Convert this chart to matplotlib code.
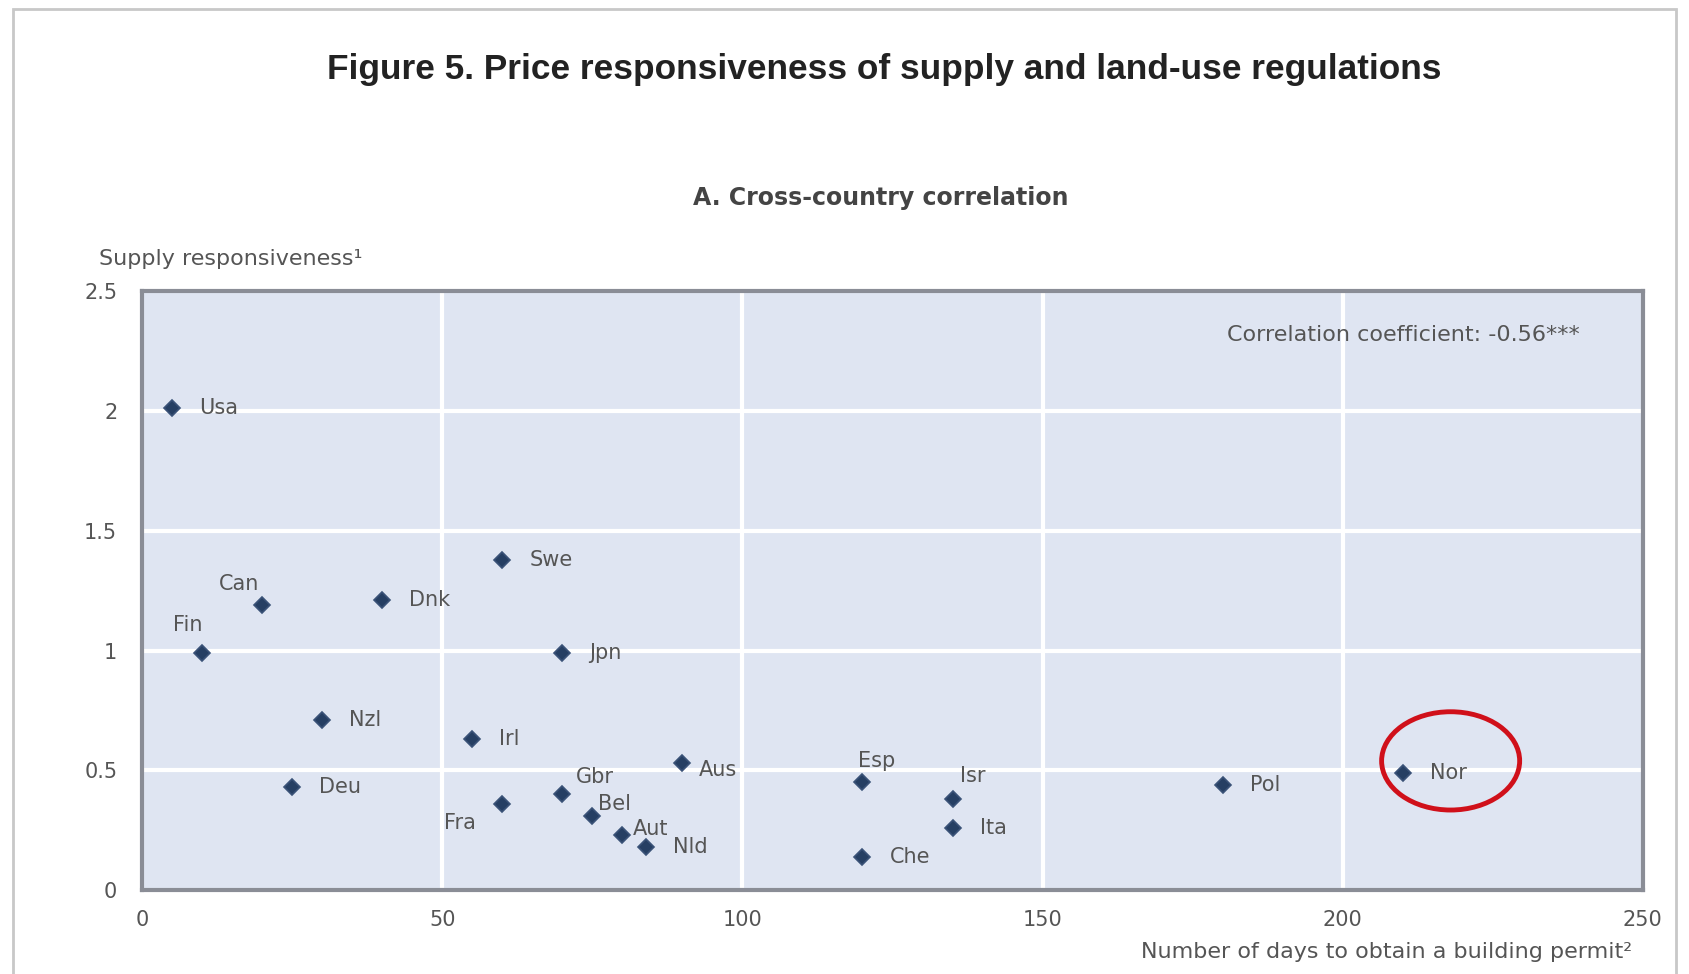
import matplotlib
matplotlib.use("Agg")
import matplotlib.pyplot as plt
from matplotlib.patches import Ellipse, Rectangle

plt.rcParams['font.family'] = ['DejaVu Sans']

# data
countries = ["Usa", "Can", "Fin", "Dnk", "Swe", "Jpn", "Nzl", "Irl", "Deu", "Fra", "Gbr",
             "Bel", "Aut", "Nld", "Aus", "Esp", "Che", "Isr", "Ita", "Pol", "Nor"]
days = [5, 20, 10, 40, 60, 70, 30, 55, 25, 60, 70,
        75, 80, 84, 90, 120, 120, 135, 135, 180, 210]
responsiveness = [2.01, 1.19, 0.99, 1.21, 1.38, 0.99, 0.71, 0.63, 0.43, 0.36, 0.40,
                  0.31, 0.23, 0.18, 0.53, 0.45, 0.14, 0.38, 0.26, 0.44, 0.49]

# label offsets in pixels (dx, dy, horizontal alignment)
label_offsets = {
    "Can": (-23, 21, "center"), "Fin": (-15, 28, "center"), "Fra": (-42, -19, "center"),
    "Gbr": (32, 17, "center"), "Bel": (6, 12, "left"), "Aut": (10, 6, "left"),
    "Aus": (16, -7, "left"), "Esp": (14, 21, "center"), "Isr": (20, 23, "center"),
}

fig = plt.figure(figsize=(16.9, 9.74), dpi=100)
ax = fig.add_axes([0.0842, 0.0859, 0.972 - 0.0842, 0.7012 - 0.0859])

ax.set_facecolor("#dfe5f2")
ax.grid(True, color="white", linewidth=3)
ax.set_axisbelow(True)
for side in ax.spines.values():
    side.set_color("#8a8d96")
    side.set_linewidth(3)

ax.plot(days, responsiveness, linestyle="none", marker="D", markersize=8,
        color="#263f63", markeredgecolor="#3a5278", markeredgewidth=1.2, zorder=3)

for name, x, y in zip(countries, days, responsiveness):
    dx, dy, ha = label_offsets.get(name, (27, 0, "left"))
    ax.annotate(name, (x, y), xytext=(dx, dy), textcoords="offset pixels",
                ha=ha, va="center", fontsize=15, color="#555555")

# highlight around Norway
ax.add_patch(Ellipse((218, 0.54), 23, 0.41, fill=False, edgecolor="#d0101a",
                     linewidth=3.5, zorder=4))

ax.set_xlim(0, 250)
ax.set_ylim(0, 2.5)
ax.set_xticks([0, 50, 100, 150, 200, 250])
ax.set_yticks([0, 0.5, 1, 1.5, 2, 2.5])
ax.set_yticklabels(["0", "0.5", "1", "1.5", "2", "2.5"])
ax.tick_params(length=0, labelsize=15, labelcolor="#555555")
ax.tick_params(axis="y", pad=18)
ax.tick_params(axis="x", pad=14)

ax.text(0.958, 0.926, "Correlation coefficient: -0.56***", transform=ax.transAxes,
        ha="right", va="center", fontsize=16, color="#555555")

fig.text(0.523, 0.929, "Figure 5. Price responsiveness of supply and land-use regulations",
         ha="center", va="center", fontsize=25.4, fontweight="bold", color="#222222",
         family="Liberation Sans")
fig.text(0.521, 0.797, "A. Cross-country correlation", ha="center", va="center",
         fontsize=17, fontweight="bold", color="#444444")
fig.text(0.0586, 0.734, "Supply responsiveness\u00b9", ha="left", va="center",
         fontsize=16, color="#555555")
fig.text(0.966, 0.023, "Number of days to obtain a building permit\u00b2", ha="right",
         va="center", fontsize=16, color="#555555")

# light frame around the whole picture
fig.patches.append(Rectangle((13 / 1690, -0.02), (1676 - 13) / 1690, 1.02 - 9 / 974,
                             transform=fig.transFigure, fill=False,
                             edgecolor="#c8c8c8", linewidth=2))

fig.savefig("out.png", dpi=100)
